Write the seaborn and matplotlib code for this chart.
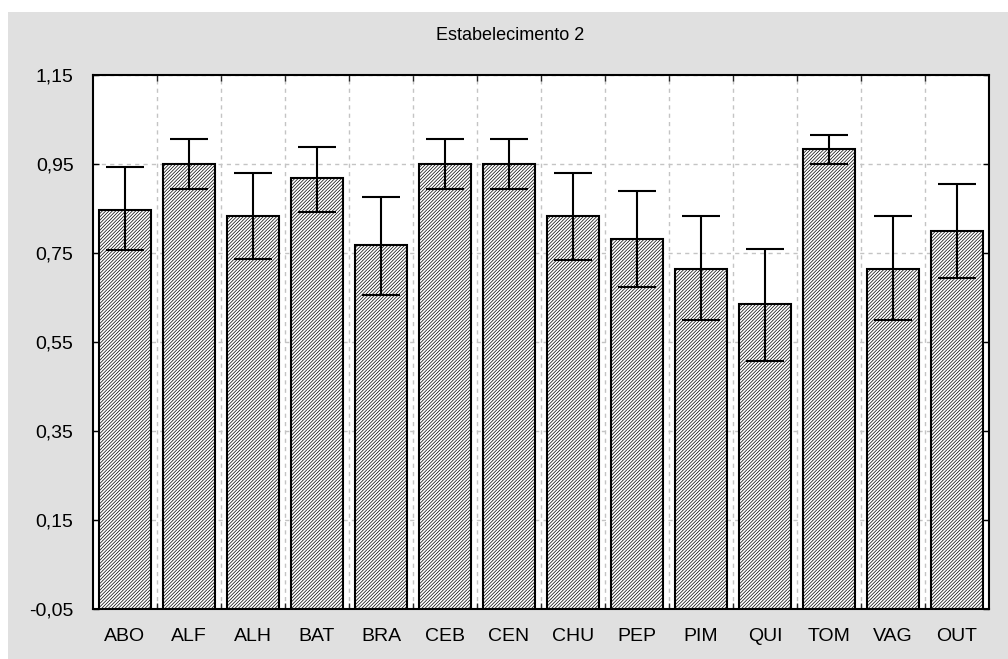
import matplotlib
matplotlib.use("Agg")
import matplotlib.pyplot as plt
import matplotlib.patches as mpatches
from matplotlib.ticker import FixedLocator, FuncFormatter
import seaborn as sns
import pandas as pd
import numpy as np

categories = ["ABO", "ALF", "ALH", "BAT", "BRA", "CEB", "CEN", "CHU",
              "PEP", "PIM", "QUI", "TOM", "VAG", "OUT"]
means = [0.847, 0.950, 0.833, 0.918, 0.767, 0.950, 0.950, 0.833,
         0.781, 0.715, 0.635, 0.984, 0.715, 0.800]
ci_low = [0.757, 0.893, 0.736, 0.843, 0.656, 0.893, 0.893, 0.735,
          0.674, 0.599, 0.507, 0.951, 0.599, 0.694]
ci_high = [0.943, 1.006, 0.930, 0.989, 0.876, 1.006, 1.006, 0.930,
           0.890, 0.833, 0.760, 1.016, 0.833, 0.904]
y_ticks = [-0.05, 0.15, 0.35, 0.55, 0.75, 0.95, 1.15]
title = "Estabelecimento 2"
baseline = -0.05

sns.set_style("white")
plt.rcParams['font.family'] = ['Liberation Sans', 'DejaVu Sans']
plt.rcParams['hatch.linewidth'] = 0.5
plt.rcParams['hatch.color'] = '#222222'

df = pd.DataFrame({"cat": categories, "val": means})

fig = plt.figure(figsize=(10.08, 6.59), dpi=100)
fig.patch.set_facecolor('white')
fig.patches.append(mpatches.Rectangle((8 / 1008, 0), 1 - 8 / 1008, 1 - 12 / 659,
                                      transform=fig.transFigure, facecolor='#e0e0e0',
                                      edgecolor='none', zorder=-10))
ax = fig.add_axes([93 / 1008, 1 - 609 / 659, (989 - 93) / 1008, (609 - 75) / 659])
ax.set_facecolor('white')

sns.barplot(data=df, x="cat", y="val", ax=ax, color='white', edgecolor='black',
            linewidth=1.5, errorbar=None, width=0.8, zorder=3)
# bars in the reference rise from the bottom of the axis (-0.05)
for p in ax.patches:
    top = p.get_y() + p.get_height()
    p.set_y(baseline)
    p.set_height(top - baseline)
    p.set_hatch('//////////')
    p.set_facecolor('white')

xpos = np.arange(len(categories))
m = np.array(means)
yerr = np.vstack([m - np.array(ci_low), np.array(ci_high) - m])
ax.errorbar(xpos, m, yerr=yerr, fmt='none', ecolor='black', elinewidth=1.5,
            capsize=13.5, capthick=1.5, zorder=4)

ax.set_xlim(-0.5, len(categories) - 0.5)
ax.set_ylim(-0.05, 1.15)
ax.yaxis.set_major_locator(FixedLocator(y_ticks))
ax.yaxis.set_major_formatter(FuncFormatter(lambda v, p: f"{v:.2f}".replace('.', ',')))
ax.xaxis.set_minor_locator(FixedLocator(np.arange(0.5, len(categories) - 0.5, 1)))
ax.set_xlabel("")
ax.set_ylabel("")

ax.grid(False)
ax.grid(True, which='minor', axis='x', color='#c4c4c4', linestyle=(0, (3, 3)), linewidth=1, zorder=0)
ax.grid(True, which='major', axis='y', color='#c4c4c4', linestyle=(0, (3, 3)), linewidth=1, zorder=0)
ax.set_axisbelow(True)

ax.tick_params(axis='x', which='major', length=0, labelsize=14, pad=14, colors='black')
ax.tick_params(axis='x', which='minor', direction='in', length=4, width=1, top=True, bottom=True)
ax.tick_params(axis='y', which='major', direction='in', length=4, width=1, left=True, right=True,
               labelsize=14, pad=14, colors='black')
for s in ax.spines.values():
    s.set_color('black')
    s.set_linewidth(1.5)
    s.set_visible(True)

fig.text(510 / 1008, 1 - 35 / 659, title, ha='center', va='center', fontsize=13, color='black')

fig.savefig("out.png", dpi=100, facecolor=fig.get_facecolor())
